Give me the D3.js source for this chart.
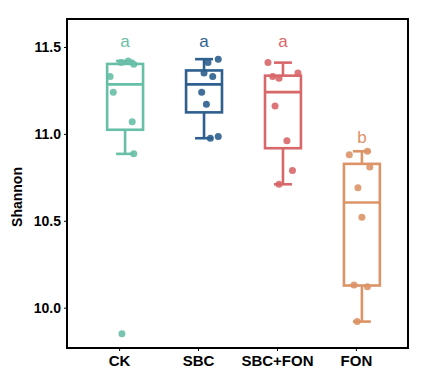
<!DOCTYPE html>
<html>
<head>
<meta charset="utf-8">
<script src="https://cdn.jsdelivr.net/npm/d3@7"></script>
<style>
    body { margin: 0; background: #fff; }
    svg text { font-family: "Liberation Sans", Arial, sans-serif; }
</style>
</head>
<body>
<div id="chart"></div>
<script>
// groups and their Shannon values
var groups = ["CK", "SBC", "SBC+FON", "FON"];
var colors = ["#68bfa7", "#2e5f8f", "#d8676a", "#dc9367"];
var letters = ["a", "a", "a", "b"];
var letterY = [11.50, 11.50, 11.50, 10.95];

var valuesCK = [11.41, 11.42, 11.40, 11.33, 11.24, 11.07, 10.885, 9.85];
var valuesSBC = [11.41, 11.43, 11.35, 11.33, 11.24, 11.17, 10.975, 10.985];
var valuesSBCFON = [11.41, 11.33, 11.32, 11.35, 11.16, 10.96, 10.79, 10.71];
var valuesFON = [10.88, 10.90, 10.81, 10.69, 10.52, 10.13, 10.12, 9.92];

// horizontal jitter of each point, as a fraction of the category step
var jitterCK = [-0.05, 0.04, 0.11, -0.19, -0.15, 0.09, 0.11, -0.04];
var jitterSBC = [0.05, 0.18, 0.0, 0.11, -0.03, 0.03, 0.08, 0.18];
var jitterSBCFON = [-0.19, -0.13, -0.05, 0.19, -0.10, 0.05, 0.12, -0.05];
var jitterFON = [-0.16, 0.07, 0.10, -0.05, 0.0, -0.10, 0.07, -0.06];

var yTicks = [10.0, 10.5, 11.0, 11.5];

var data = [
    {name: groups[0], values: valuesCK, jitter: jitterCK},
    {name: groups[1], values: valuesSBC, jitter: jitterSBC},
    {name: groups[2], values: valuesSBCFON, jitter: jitterSBCFON},
    {name: groups[3], values: valuesFON, jitter: jitterFON}
];

var margin = {top: 19, right: 26, bottom: 39, left: 67},
    width = 434 - margin.left - margin.right,
    height = 387 - margin.top - margin.bottom;

var x = d3.scalePoint().domain(groups).range([0, width]).padding(0.66);
var y = d3.scaleLinear().domain([9.768, 11.661]).range([height, 0]);
var z = d3.scaleOrdinal().domain(groups).range(colors);

var dodge = 6,
    boxW = x.step() * 0.455,
    capW = boxW * 0.5;

var svg = d3.select("#chart").append("svg")
    .attr("width", 434)
    .attr("height", 387);

var chart = svg.append("g")
    .attr("transform", "translate(" + margin.left + "," + margin.top + ")");

// box stats
data.forEach(function (d) {
    var s = d.values.slice().sort(d3.ascending);
    d.q1 = d3.quantile(s, 0.25);
    d.med = d3.quantile(s, 0.5);
    d.q3 = d3.quantile(s, 0.75);
    var iqr = d.q3 - d.q1;
    d.lo = d3.min(s.filter(function (v) { return v >= d.q1 - 1.5 * iqr; }));
    d.hi = d3.max(s.filter(function (v) { return v <= d.q3 + 1.5 * iqr; }));
});

var box = chart.selectAll(".box")
    .data(data)
    .enter().append("g")
    .attr("class", "box")
    .attr("transform", function (d) {
        return "translate(" + (x(d.name) + dodge) + ",0)";
    })
    .style("stroke", function (d) { return z(d.name); })
    .style("stroke-width", 2.6)
    .style("fill", "none");

// whiskers
box.append("line")
    .attr("y1", function (d) { return y(d.q3); })
    .attr("y2", function (d) { return y(d.hi); });
box.append("line")
    .attr("y1", function (d) { return y(d.q1); })
    .attr("y2", function (d) { return y(d.lo); });
box.append("line")
    .attr("x1", -capW / 2).attr("x2", capW / 2)
    .attr("y1", function (d) { return y(d.hi); })
    .attr("y2", function (d) { return y(d.hi); });
box.append("line")
    .attr("x1", -capW / 2).attr("x2", capW / 2)
    .attr("y1", function (d) { return y(d.lo); })
    .attr("y2", function (d) { return y(d.lo); });

box.append("rect")
    .attr("x", -boxW / 2)
    .attr("width", boxW)
    .attr("y", function (d) { return y(d.q3); })
    .attr("height", function (d) { return y(d.q1) - y(d.q3); })
    .style("fill", "#fff");

box.append("line")
    .attr("x1", -boxW / 2).attr("x2", boxW / 2)
    .attr("y1", function (d) { return y(d.med); })
    .attr("y2", function (d) { return y(d.med); });

// jittered points
box.each(function (d) {
    d3.select(this).selectAll("circle")
        .data(d.values.map(function (v, i) { return {v: v, j: d.jitter[i]}; }))
        .enter().append("circle")
        .attr("cx", function (p) { return p.j * x.step(); })
        .attr("cy", function (p) { return y(p.v); })
        .attr("r", 3.5)
        .style("stroke", "none")
        .style("fill", z(d.name))
        .style("fill-opacity", 0.9);
});

// significance letters
chart.selectAll(".letter")
    .data(data)
    .enter().append("text")
    .attr("class", "letter")
    .attr("x", function (d) { return x(d.name) + dodge; })
    .attr("y", function (d, i) { return y(letterY[i]); })
    .style("text-anchor", "middle")
    .style("font-size", "17px")
    .style("fill", function (d) { return z(d.name); })
    .text(function (d, i) { return letters[i]; });

// axes
var xAxis = chart.append("g")
    .attr("class", "x axis")
    .attr("transform", "translate(0," + height + ")")
    .call(d3.axisBottom(x).tickSize(3).tickPadding(4));

var yAxis = chart.append("g")
    .attr("class", "y axis")
    .call(d3.axisLeft(y).tickValues(yTicks).tickFormat(d3.format(".1f")).tickSize(3).tickPadding(3));

chart.selectAll(".axis .domain").remove();
chart.selectAll(".axis text")
    .style("font-size", "14px")
    .style("font-weight", "bold")
    .style("fill", "#000");
xAxis.selectAll("text").style("font-size", "15px");
chart.selectAll(".axis line").style("stroke", "#000");

// frame
chart.append("rect")
    .attr("width", width)
    .attr("height", height)
    .style("fill", "none")
    .style("stroke", "#000")
    .style("stroke-width", 2);

svg.append("text")
    .attr("transform", "translate(22,197) rotate(-90)")
    .style("text-anchor", "middle")
    .style("font-size", "14px")
    .style("font-weight", "bold")
    .text("Shannon");
</script>
</body>
</html>
